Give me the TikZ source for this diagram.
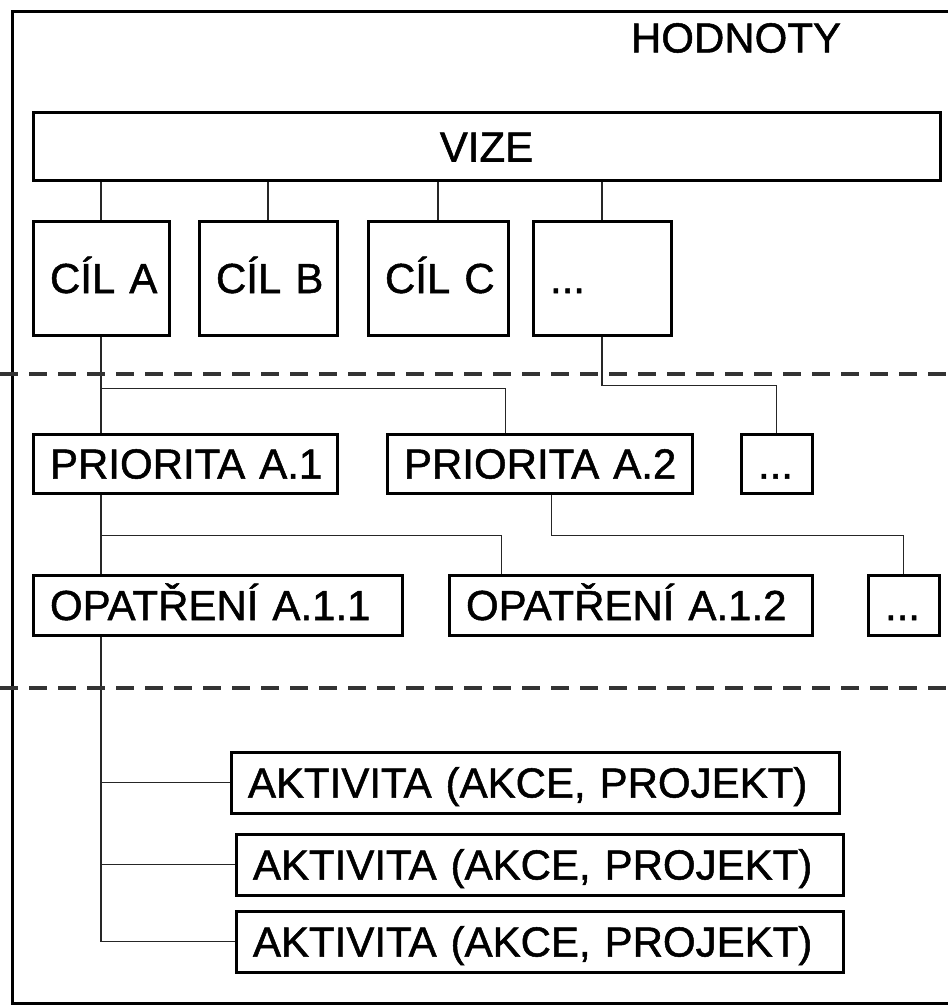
\documentclass[tikz,border=0pt]{standalone}
\usepackage{fontspec}
\setmainfont{Liberation Sans}
\newfontfamily\lblfam{Liberation Sans}[FakeBold=1.2,WordSpace=0.6]
\usepackage{tikz}
\usetikzlibrary{positioning}
\newcommand{\lblfont}{\lblfam\fontsize{42}{46}\selectfont}

\begin{document}
\begin{tikzpicture}[
  x=1pt,y=-1pt,
  box/.style={draw,line width=3pt,anchor=north west,inner xsep=17pt,inner ysep=0pt,
    align=left,text height=30pt,text depth=0pt,font=\lblfont},
  conn/.style={line width=1.6pt,black!85},
  sep/.style={line width=4pt,black!80,dash pattern=on 18pt off 11pt},
  frame/.style={line width=3pt}
]
\useasboundingbox (0,0) rectangle (948,1006);
\draw[frame] (948,12) -- (12,12) -- (12,1003) -- (948,1003);
\node[font=\lblfont] (hodnoty) at (736,38) {HODNOTY};
\node[box,align=center,text width=873pt,minimum height=67pt] (vize) at (31.5,111.5) {VIZE};
\node[box,text width=102pt,minimum height=114pt] (cila) at (31.5,219.5) {CÍL~A};
\node[box,text width=104pt,minimum height=114pt] (cilb) at (197.5,219.5) {CÍL~B};
\node[box,text width=106pt,minimum height=114pt] (cilc) at (366.5,219.5) {CÍL~C};
\node[box,text width=104pt,minimum height=114pt] (cdots) at (531.5,219.5) {...};
\node[box,text width=270pt,minimum height=59pt] (pria1) at (31.5,432.5) {PRIORITA~A.1};
\node[box,text width=271pt,minimum height=59pt] (pria2) at (385.5,432.5) {PRIORITA~A.2};
\node[box,text width=37pt,minimum height=59pt] (pdots) at (739.5,432.5) {...};
\node[box,text width=335pt,minimum height=60pt] (opa11) at (31.5,573.5) {OPATŘENÍ~A.1.1};
\node[box,text width=329pt,minimum height=60pt] (opa12) at (447.5,573.5) {OPATŘENÍ~A.1.2};
\node[box,text width=37pt,minimum height=60pt] (odots) at (866.5,573.5) {...};
\node[box,text width=574pt,minimum height=61pt] (akt1) at (229.5,750.5) {AKTIVITA~(AKCE,~PROJEKT)};
\node[box,text width=573pt,minimum height=61pt] (akt2) at (234.5,832.5) {AKTIVITA~(AKCE,~PROJEKT)};
\node[box,text width=573pt,minimum height=61pt] (akt3) at (234.5,909.5) {AKTIVITA~(AKCE,~PROJEKT)};
% vize -> cile
\draw[conn] (cila.north) -- (cila.north |- vize.south);
\draw[conn] (cilb.north) -- (cilb.north |- vize.south);
\draw[conn] (cilc.north) -- (cilc.north |- vize.south);
\draw[conn] (cdots.north) -- (cdots.north |- vize.south);
% cile -> priority
\draw[conn] (cila.south) -- (cila.south |- pria1.north);
\draw[conn] (cila.south) ++(0,52) -| ([xshift=120pt]pria2.north west);
\draw[conn] (cdots.south) -- ++(0,49) -| (pdots.north);
% priority -> opatreni
\draw[conn] (cila.south |- pria1.south) -- (cila.south |- opa11.north);
\draw[conn] (cila.south |- pria1.south) ++(0,41) -| ([xshift=54pt]opa12.north west);
\draw[conn] ([xshift=166pt]pria2.south west) -- ++(0,41) -| (odots.north);
% opatreni -> aktivity
\draw[conn] (cila.south |- opa11.south) |- (akt3.west);
\draw[conn] (akt1.west) -- (akt1.west -| cila.south);
\draw[conn] (akt2.west) -- (akt2.west -| cila.south);
% urovne
\draw[sep] (0,374) -- (948,374);
\draw[sep] (0,688) -- (948,688);
\end{tikzpicture}
\end{document}
